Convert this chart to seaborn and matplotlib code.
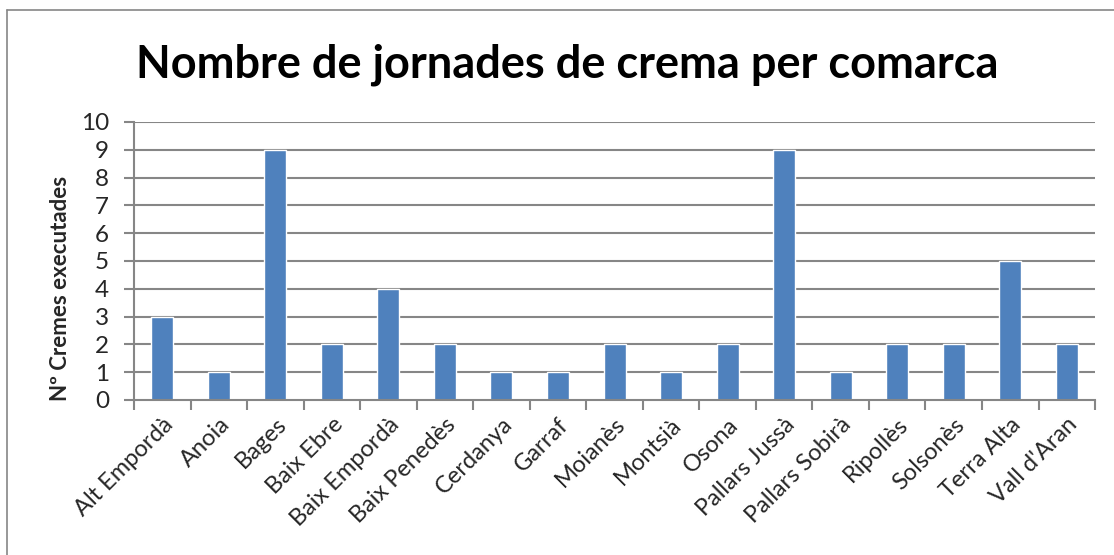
import matplotlib
matplotlib.use("Agg")
import matplotlib.pyplot as plt
import seaborn as sns
import pandas as pd
from matplotlib.lines import Line2D

# Chart data
comarques = [
    "Alt Empordà", "Anoia", "Bages", "Baix Ebre", "Baix Empordà", "Baix Penedès",
    "Cerdanya", "Garraf", "Moianès", "Montsià", "Osona", "Pallars Jussà",
    "Pallars Sobirà", "Ripollès", "Solsonès", "Terra Alta", "Vall d'Aran"
]
cremes = [3, 1, 9, 2, 4, 2, 1, 1, 2, 1, 2, 9, 1, 2, 2, 5, 2]
y_ticks = list(range(0, 11))

data = pd.DataFrame({"Comarca": comarques, "Cremes": cremes})

sns.set_style("white")
plt.rcParams["font.family"] = ["Lato", "DejaVu Sans"]

grey = "#868686"

fig = plt.figure(figsize=(11.14, 5.55), dpi=100)
ax = fig.add_axes([0.1203, 0.2793, 0.8627, 0.5009])

# Gridlines behind bars
ax.set_axisbelow(True)
for v in y_ticks[1:]:
    ax.axhline(v, color=grey, linewidth=1.5, zorder=0)

sns.barplot(data=data, x="Comarca", y="Cremes", color="#4F81BD",
            width=0.39, saturation=1, ax=ax, zorder=2)

ax.set_ylim(0, 10)
ax.set_xlim(-0.5, len(comarques) - 0.5)
ax.set_yticks(y_ticks)
ax.tick_params(axis="y", labelsize=17.5, length=7, width=1.5, color=grey,
               left=True, pad=11)

# Category labels at centres, tick marks at category boundaries
ax.set_xticks(range(len(comarques)))
ax.set_xticklabels(comarques, rotation=45, ha="right", rotation_mode="anchor",
                   fontsize=17)
ax.tick_params(axis="x", which="major", length=0, pad=10)
ax.set_xticks([i - 0.5 for i in range(len(comarques) + 1)], minor=True)
ax.tick_params(axis="x", which="minor", length=7, width=1.5, color=grey,
               bottom=True)

for side in ["top", "right"]:
    ax.spines[side].set_visible(False)
for side in ["left", "bottom"]:
    ax.spines[side].set_color(grey)
    ax.spines[side].set_linewidth(1.5)

ax.set_xlabel("")
ax.set_ylabel("Nº Cremes executades", fontsize=16, fontweight="bold")
ax.yaxis.set_label_coords(-0.066, 0.40)

fig.suptitle("Nombre de jornades de crema per comarca", x=0.509, y=0.922,
             fontsize=32.5, fontweight="bold", color="#000000")

# Outer chart-area border (top and left visible in crop)
fig.add_artist(Line2D([7 / 1114, 1], [1 - 10 / 555, 1 - 10 / 555],
                      transform=fig.transFigure, color=grey, linewidth=1.2))
fig.add_artist(Line2D([7 / 1114, 7 / 1114], [0, 1 - 10 / 555],
                      transform=fig.transFigure, color=grey, linewidth=1.2))

fig.savefig("out.png", dpi=100)
